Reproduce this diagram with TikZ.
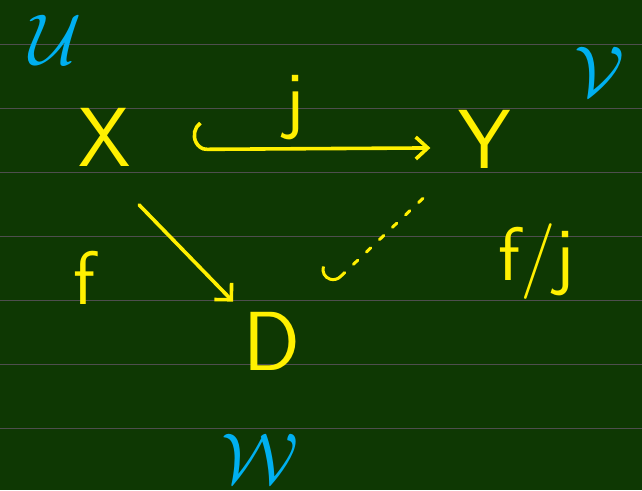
\documentclass[tikz,border=0pt]{standalone}
\usetikzlibrary{arrows.meta}
\usepackage{amsmath}
\definecolor{board}{RGB}{14,56,3}
\definecolor{ruling}{RGB}{78,78,78}
\definecolor{chalk}{RGB}{255,240,0}
\definecolor{sky}{RGB}{0,176,240}

\tikzset{
  obj/.style={text=chalk, font=\fontsize{84}{84}\selectfont\sffamily, inner sep=2pt},
  lbl/.style={text=chalk, font=\fontsize{76}{76}\selectfont\sffamily},
  cover/.style={text=sky, font=\Huge, scale=2.9, inner sep=0pt},
  pen/.style={draw=chalk, line width=3.6pt, line cap=round},
}

\begin{document}
\begin{tikzpicture}[x=1pt, y=-1pt]
  % board and ruled lines
  \fill[board] (0,0) rectangle (642,491);
  \foreach \yy in {45,109,173,237,301,365,429}
    \draw[ruling, line width=1pt] (0,\yy) -- (642,\yy);
  \useasboundingbox (0,0) rectangle (642,491);

  % objects
  \node[obj] (X) at (104,138) {X};
  \node[obj] (Y) at (485,140) {Y};
  \node[obj] (D) at (272,342) {D};

  % covers
  \node[cover] (U) at (55,40) {$\mathcal{U}$};
  \node[cover] (V) at (600,72) {$\mathcal{V}$};
  \node[cover] (W) at (260,460) {$\mathcal{W}$};

  % maps
  \draw[pen, {Hooks[right,arc=150,length=14pt,width=60pt]}-{Straight Barb[length=12pt,width=22pt]},
        shorten <=60pt, shorten >=26pt] ([yshift=-12pt]X.east) -- ([yshift=-8pt]Y.west)
    node[lbl, midway, above=4pt] (j) {j};
  \draw[pen, -{Straight Barb[length=12pt,width=24pt]},
        shorten <=50pt, shorten >=12pt] (X.south) -- (D.north west);
  \node[lbl] (f) at (84,278) {f};
  \draw[pen, line width=3pt, dash pattern=on 6pt off 12pt,
        {Hooks[right,arc=150,length=12pt,width=44pt]}-,
        shorten <=40pt, shorten >=44pt] (D) -- (Y);
  \node[lbl] (fj) at (537,262) {f/j};
\end{tikzpicture}
\end{document}
